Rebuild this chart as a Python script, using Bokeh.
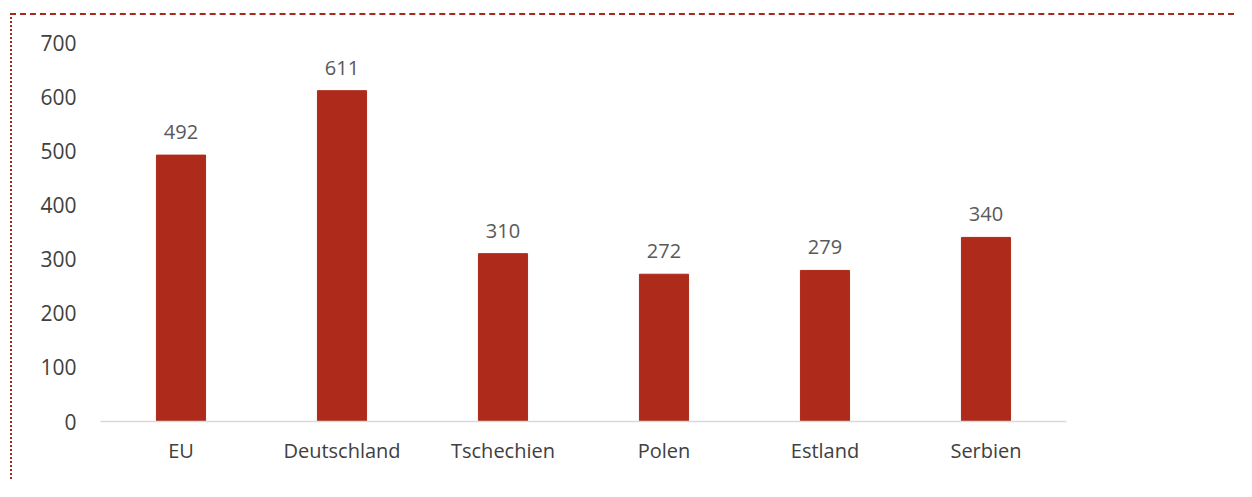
from bokeh.plotting import figure
from bokeh.models import ColumnDataSource, Range1d, FixedTicker, LabelSet
from bokeh.core.properties import value
from bokeh.embed import file_html
from bokeh.resources import INLINE

categories = ["EU", "Deutschland", "Tschechien", "Polen", "Estland", "Serbien"]
values = [492, 611, 310, 272, 279, 340]
y_ticks = [0, 100, 200, 300, 400, 500, 600, 700]

src = ColumnDataSource(dict(cat=categories, val=values, lab=[str(v) for v in values]))

p = figure(x_range=categories, y_range=Range1d(0, 700), width=1224, height=466,
           output_backend="svg", toolbar_location=None,
           min_border_left=88, min_border_right=170, min_border_top=27, min_border_bottom=60)
p.styles = {"border-top": "2px dashed #A8291C", "border-left": "2px dotted #A8291C",
            "margin-left": "10px", "margin-top": "13px"}

p.vbar(x="cat", top="val", width=0.305, source=src, color="#AE2A1A")
labels = LabelSet(x="cat", y="val", text="lab", source=src, text_align="center",
                  text_baseline="bottom", y_offset=16, text_color="#595959",
                  text_font_size="20px", text_font=value("Open Sans"))
p.add_layout(labels)

p.outline_line_color = None
p.xgrid.grid_line_color = None
p.ygrid.grid_line_color = None
p.x_range.range_padding = 0.0

p.yaxis.ticker = FixedTicker(ticks=y_ticks)
p.yaxis.axis_line_color = None
p.yaxis.major_tick_line_color = None
p.yaxis.minor_tick_line_color = None
p.yaxis.major_label_text_font = "Open Sans"
p.yaxis.major_label_text_font_size = "21px"
p.yaxis.major_label_text_color = "#404040"
p.yaxis.major_label_standoff = 18

p.xaxis.axis_line_color = "#D9D9D9"
p.xaxis.axis_line_width = 1.5
p.xaxis.major_tick_line_color = None
p.xaxis.minor_tick_line_color = None
p.xaxis.major_label_text_font = "Open Sans"
p.xaxis.major_label_text_font_size = "20px"
p.xaxis.major_label_text_color = "#404040"
p.xaxis.major_label_standoff = 9

open("out.html", "w").write(file_html(p, INLINE))
